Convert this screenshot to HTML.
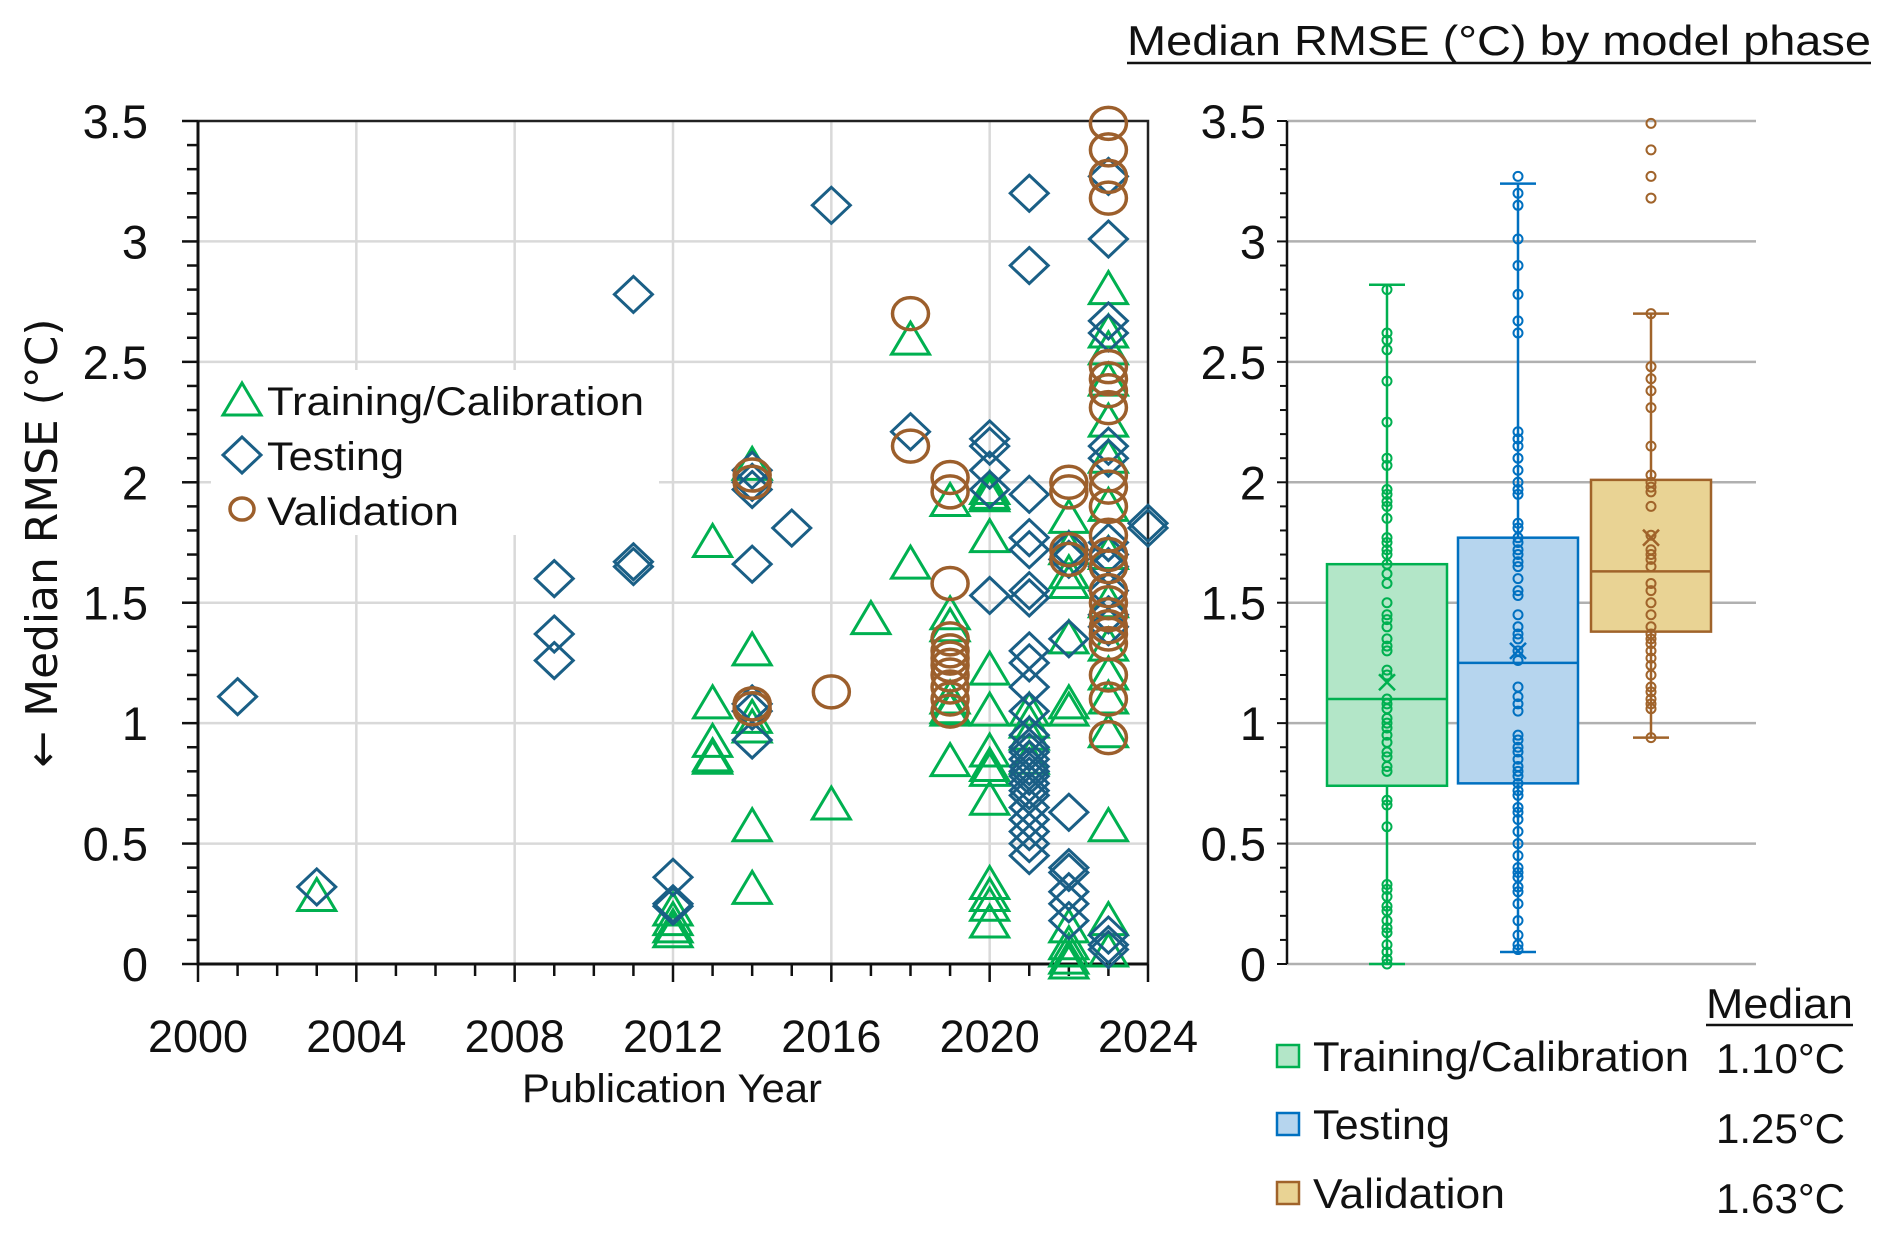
<!DOCTYPE html>
<html><head><meta charset="utf-8"><style>
html,body{margin:0;padding:0;background:#fff;}
svg{display:block;font-family:"Liberation Sans",sans-serif;}
</style></head><body>
<svg id="chart" width="1892" height="1237" viewBox="0 0 1892 1237" xmlns="http://www.w3.org/2000/svg">
<g id="left"></g>
<g id="right"></g>
</svg>
<script>
// ---- data ----
const trainYears = [2003,2012,2012,2012,2012,2013,2013,2013,2013,2013,2014,2014,2014,2014,2014,2014,2016,2017,2018,2018,
 2019,2019,2019,2019,2019,2019,2019,2020,2020,2020,2020,2020,2020,2020,2020,2020,2020,2020,2020,2020,2020,
 2021,2021,2021,2021,2022,2022,2022,2022,2022,2022,2022,2022,2022,2022,2022,2022,
 2023,2023,2023,2023,2023,2023,2023,2023,2023,2023,2023,2023,2023,2023,2023,2023];
const trainValues = [0.28,0.22,0.18,0.15,0.13,1.75,1.08,0.92,0.86,0.85,2.07,1.30,1.02,0.98,0.57,0.31,0.66,1.43,2.59,1.66,
 1.92,1.45,1.40,1.10,1.06,1.05,0.84,1.97,1.95,1.94,1.77,1.22,1.05,0.88,0.82,0.80,0.68,0.33,0.28,0.24,0.17,
 1.05,1.00,0.95,0.85,1.85,1.72,1.62,1.58,1.35,1.08,1.05,0.15,0.08,0.05,0.02,0.00,
 2.80,2.62,2.55,2.42,2.25,2.10,1.90,1.70,1.50,1.32,1.20,1.10,0.96,0.57,0.18,0.05];
const testYears = [2001,2003,2009,2009,2009,2011,2011,2011,2012,2012,2012,2014,2014,2014,2014,2014,2014,2014,2015,2016,2018,
 2020,2020,2020,2020,2020,
 2021,2021,2021,2021,2021,2021,2021,2021,2021,2021,2021,2021,2021,2021,2021,2021,2021,2021,2021,2021,2021,2021,2021,2021,2021,2021,
 2022,2022,2022,2022,2022,2022,2022,2022,2022,
 2023,2023,2023,2023,2023,2023,2023,2023,2023,2023,2023,2023,2023,2023,2023,2024,2024];
const testValues = [1.11,0.32,1.60,1.37,1.26,2.78,1.67,1.65,0.36,0.25,0.24,2.05,2.00,1.97,1.66,1.08,1.05,0.93,1.81,3.15,2.21,
 2.18,2.15,2.05,1.97,1.53,
 3.20,2.90,1.95,1.77,1.72,1.55,1.52,1.30,1.25,1.15,1.05,0.95,0.90,0.88,0.85,0.82,0.80,0.78,0.75,0.72,0.70,0.65,0.60,0.55,0.50,0.45,
 1.72,1.68,1.35,0.63,0.40,0.38,0.30,0.25,0.18,
 3.27,3.01,2.67,2.62,2.15,2.10,1.75,1.70,1.65,1.55,1.45,1.40,0.12,0.08,0.06,1.83,1.81];
const valYears = [2014,2014,2014,2014,2016,2018,2018,2019,2019,2019,2019,2019,2019,2019,2019,2019,2019,2019,
 2022,2022,2022,2022,2023,2023,2023,2023,2023,2023,2023,2023,2023,2023,2023,2023,2023,2023,2023,2023,2023,2023,2023,2023,2023,2023,2023];
const valValues = [2.03,2.00,1.08,1.06,1.13,2.70,2.15,2.02,1.96,1.58,1.35,1.30,1.27,1.24,1.20,1.15,1.10,1.05,
 2.00,1.96,1.72,1.68,3.49,3.38,3.27,3.18,2.48,2.43,2.38,2.31,2.03,1.98,1.90,1.78,1.70,1.65,1.55,1.50,1.45,1.40,1.37,1.33,1.20,1.10,0.94];
const yTicks = [0,0.5,1,1.5,2,2.5,3,3.5];
const yTickLabels = ["0","0.5","1","1.5","2","2.5","3","3.5"];
const xTicks = [2000,2004,2008,2012,2016,2020,2024];
const boxNames = ["Training/Calibration","Testing","Validation"];
const boxQ1 = [0.74,0.75,1.38];
const boxMedian = [1.10,1.25,1.63];
const boxQ3 = [1.66,1.77,2.01];
const boxWhiskLo = [0.00,0.05,0.94];
const boxWhiskHi = [2.82,3.24,2.70];
const boxMean = [1.17,1.30,1.77];
const medianLabels = ["1.10°C","1.25°C","1.63°C"];

// ---- helpers ----
const NS="http://www.w3.org/2000/svg";
function mk(parent,tag,attrs,text){const e=document.createElementNS(NS,tag);for(const k in attrs)e.setAttribute(k,attrs[k]);if(text!==undefined)e.textContent=text;parent.appendChild(e);return e;}
const X0=198,X1=1148,Y0=964,YT=121;
const xs=yr=>X0+(yr-2000)*(X1-X0)/24;
const ys=v=>Y0-v*(Y0-YT)/3.5;
const GREEN="#00b050",BLUE="#1a5f86",BROWN="#9c5f2c";
const L=document.getElementById('left'), R=document.getElementById('right');

// grid
for(const t of yTicks){ if(t===0||t===3.5)continue;
 const g=mk(L,'line',{x1:X0,x2:X1,y1:ys(t),y2:ys(t),stroke:"#d9d9d9","stroke-width":2.5});
 
 }
for(const t of xTicks){ if(t===2000||t===2024)continue;
 const g=mk(L,'line',{x1:xs(t),x2:xs(t),y1:YT,y2:Y0,stroke:"#d9d9d9","stroke-width":2.5});
 
 }
// legend background
const lb=mk(L,'rect',{x:211,y:370,width:448,height:165,fill:"#fff"});


// frame
mk(L,'path',{d:`M${X0},${YT}H${X1}V${Y0}`,fill:"none",stroke:"#222","stroke-width":2.5});
mk(L,'path',{d:`M${X0},${YT}V${Y0}H${X1}`,fill:"none",stroke:"#111","stroke-width":3});
// ticks
for(let i=0;i<=35;i++){const y=ys(i/10);const major=i%5===0;
 mk(L,'line',{x1:X0-(major?16:11),x2:X0,y1:y,y2:y,stroke:"#111","stroke-width":2.5});}
for(let yr=2000;yr<=2024;yr++){const x=xs(yr);const major=(yr%4===0);
 mk(L,'line',{x1:x,x2:x,y1:Y0,y2:Y0+(major?18:12),stroke:"#111","stroke-width":2.5});}
yTicks.forEach((t,i)=>{const e=mk(L,'text',{x:148,y:ys(t)+17,"text-anchor":"end","font-size":47,fill:"#111"},yTickLabels[i]);
 
 });
xTicks.forEach(t=>{const e=mk(L,'text',{x:xs(t),y:1052,"text-anchor":"middle","font-size":45,fill:"#111"},String(t));
 
 });
let e=mk(L,'text',{x:672,y:1102,"text-anchor":"middle","font-size":40,fill:"#111",textLength:300,lengthAdjust:"spacingAndGlyphs"},"Publication Year");


e=mk(L,'text',{x:0,y:0,transform:"translate(57,543) rotate(-90)","text-anchor":"middle","font-size":44,fill:"#111",style:"font-family:'DejaVu Sans',sans-serif",textLength:449,lengthAdjust:"spacingAndGlyphs"},"← Median RMSE (°C)");



// markers
function tri(p,x,y,c,sw){return mk(p,'polygon',{points:`${x},${y-18} ${x-19},${y+14} ${x+19},${y+14}`,fill:"none",stroke:c,"stroke-width":sw});}
function dia(p,x,y,c,sw){return mk(p,'polygon',{points:`${x},${y-18} ${x+19},${y} ${x},${y+18} ${x-19},${y}`,fill:"none",stroke:c,"stroke-width":sw});}
trainValues.forEach((v,i)=>{const m=tri(L,xs(trainYears[i]),ys(v),GREEN,3);
 
 });
testValues.forEach((v,i)=>{const m=dia(L,xs(testYears[i]),ys(v),BLUE,3);
 
 });
valValues.forEach((v,i)=>{const m=mk(L,'ellipse',{cx:xs(valYears[i]),cy:ys(v),rx:18,ry:16,fill:"none",stroke:BROWN,"stroke-width":3.5});
 
 });

// legend
const lg=mk(L,'g',{});


tri(lg,242,401,GREEN,3); dia(lg,242,455,BLUE,3);
mk(lg,'ellipse',{cx:242,cy:509,rx:12,ry:11,fill:"none",stroke:BROWN,"stroke-width":3.5});
["Training/Calibration","Testing","Validation"].forEach((s,i)=>{
 const w=[377,137,192][i];
 const t=mk(lg,'text',{x:267,y:415+i*55,"font-size":40,fill:"#111",textLength:w,lengthAdjust:"spacingAndGlyphs"},s);
 
 });

// ---- right boxplot ----
const RX0=1287,RX1=1756;
yTicks.forEach((t,i)=>{ if(t>0){const g=mk(R,'line',{x1:RX0,x2:RX1,y1:ys(t),y2:ys(t),stroke:"#b0b0b0","stroke-width":2.5});
 
 }
 const l=mk(R,'text',{x:1266,y:ys(t)+17,"text-anchor":"end","font-size":47,fill:"#111"},yTickLabels[i]);
 
 });
mk(R,'line',{x1:RX0,x2:RX1,y1:Y0,y2:Y0,stroke:"#b0b0b0","stroke-width":2.5});
mk(R,'line',{x1:RX0,x2:RX0,y1:YT,y2:Y0,stroke:"#111","stroke-width":2.5});
for(let i=0;i<=35;i++){const y=ys(i/10);mk(R,'line',{x1:RX0-(i%5===0?10:7),x2:RX0,y1:y,y2:y,stroke:"#111","stroke-width":2});}
const centers=[1387,1518,1651];
const strokes=["#00b050","#0070c0","#a0632a"];
const fills=["#b3e6c8","#b6d5ee","#e9d394"];
const dotSets=[trainValues,testValues,valValues];
boxNames.forEach((n,i)=>{
 const cx=centers[i],g=mk(R,'g',{});
 
 
 const c=strokes[i];
 mk(g,'line',{x1:cx,x2:cx,y1:ys(boxWhiskHi[i]),y2:ys(boxWhiskLo[i]),stroke:c,"stroke-width":2.5});
 mk(g,'line',{x1:cx-18,x2:cx+18,y1:ys(boxWhiskHi[i]),y2:ys(boxWhiskHi[i]),stroke:c,"stroke-width":2.5});
 mk(g,'line',{x1:cx-18,x2:cx+18,y1:ys(boxWhiskLo[i]),y2:ys(boxWhiskLo[i]),stroke:c,"stroke-width":2.5});
 mk(g,'rect',{x:cx-60,y:ys(boxQ3[i]),width:120,height:ys(boxQ1[i])-ys(boxQ3[i]),fill:fills[i],stroke:c,"stroke-width":2.5});
 mk(g,'line',{x1:cx-60,x2:cx+60,y1:ys(boxMedian[i]),y2:ys(boxMedian[i]),stroke:c,"stroke-width":2.5});
 const seen={};
 dotSets[i].forEach(v=>{const k=Math.round(v*40);if(seen[k])return;seen[k]=1;
  const d=mk(g,'circle',{cx:cx,cy:ys(v),r:4.5,fill:"none",stroke:c,"stroke-width":2});
  
  });
 const my=ys(boxMean[i]);
 mk(g,'path',{d:`M${cx-8},${my-8}L${cx+8},${my+8}M${cx-8},${my+8}L${cx+8},${my-8}`,stroke:c,"stroke-width":2.5});
});
// title
e=mk(R,'text',{x:1127,y:55,"font-size":42,fill:"#111",textLength:744,lengthAdjust:"spacingAndGlyphs"},"Median RMSE (°C) by model phase");


mk(R,'line',{x1:1127,x2:1871,y1:63,y2:63,stroke:"#111","stroke-width":2.5});
e=mk(R,'text',{x:1706,y:1018,"font-size":42,fill:"#111",textLength:147,lengthAdjust:"spacingAndGlyphs"},"Median");


mk(R,'line',{x1:1706,x2:1853,y1:1025,y2:1025,stroke:"#111","stroke-width":2.5});
const lgY=[1056,1124,1193], lgW=[376,137,192], valY=[1073,1143,1213];
boxNames.forEach((n,i)=>{
 const s=mk(R,'rect',{x:1277,y:lgY[i]-11,width:22,height:22,fill:fills[i],stroke:strokes[i],"stroke-width":2.5});
 
 
 const t=mk(R,'text',{x:1313,y:lgY[i]+15,"font-size":42,fill:"#111",textLength:lgW[i],lengthAdjust:"spacingAndGlyphs"},n);
 
 
 const m=mk(R,'text',{x:1845,y:valY[i],"text-anchor":"end","font-size":42,fill:"#111",textLength:129,lengthAdjust:"spacingAndGlyphs"},medianLabels[i]);
 
 
});
</script>
</body></html>
